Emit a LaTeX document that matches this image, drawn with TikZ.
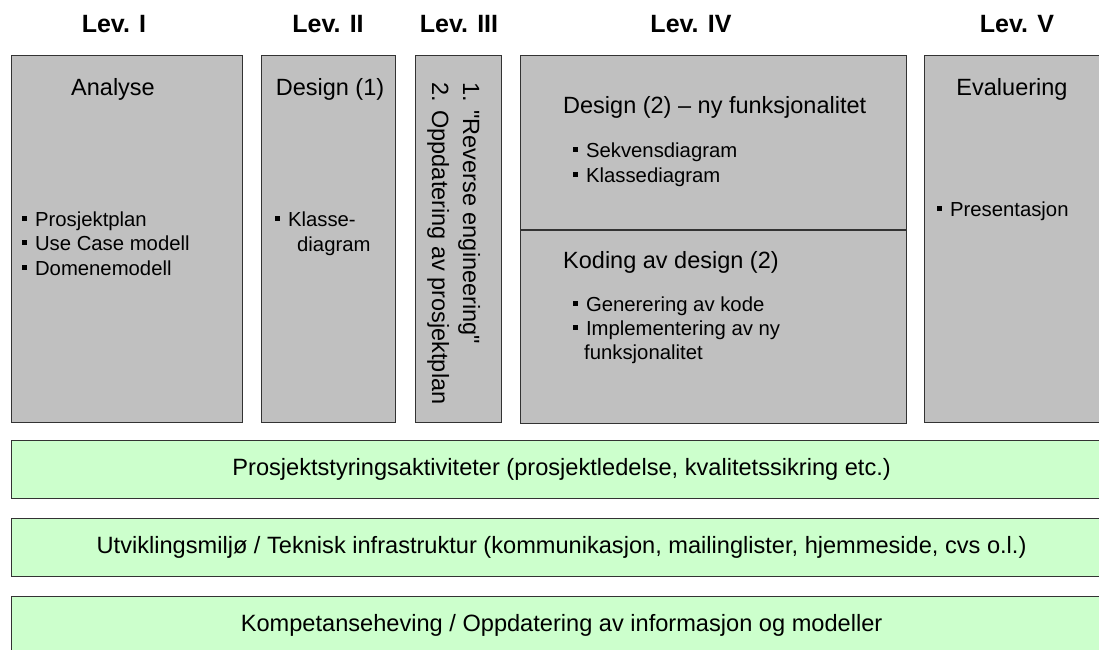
\documentclass[tikz,border=0pt]{standalone}
\usepackage{fontspec}
\setmainfont{Liberation Sans}
\definecolor{levgray}{HTML}{C0C0C0}
\definecolor{bargreen}{HTML}{CCFFCC}
\newcommand{\sqbullet}{\rule[0.25em]{0.24em}{0.24em}\hspace{8pt}}
\tikzset{
  levbox/.style={draw=black!80, line width=1.2pt, fill=levgray, anchor=north west, inner sep=0pt},
  barbox/.style={draw=black!80, line width=1.2pt, fill=bargreen, anchor=north west, inner sep=0pt, font=\fontsize{23.6}{28}\selectfont},
  levhead/.style={font=\fontsize{25}{30}\selectfont\bfseries, inner sep=0pt, anchor=base},
  heading/.style={font=\fontsize{23.5}{28}\selectfont, inner sep=0pt, anchor=base},
  bulletline/.style={font=\fontsize{20.3}{24}\selectfont, inner sep=0pt, anchor=base west},
}
\begin{document}
\begin{tikzpicture}[x=1pt, y=-1pt]
\useasboundingbox (0,0) rectangle (1099,649);
\clip (0,0) rectangle (1099,649);
% levels
\node[levhead] (headI) at (114,32) {Lev. I};
\node[levhead] (headII) at (328,32) {Lev. II};
\node[levhead] (headIII) at (459,32) {Lev. III};
\node[levhead] (headIV) at (691,32) {Lev. IV};
\node[levhead] (headV) at (1017,32) {Lev. V};
\node[levbox, minimum width=231pt, minimum height=367pt] (levI) at (11,55) {};
\node[levbox, minimum width=134pt, minimum height=367pt] (levII) at (261,55) {};
\node[levbox, minimum width=86pt, minimum height=367pt] (levIII) at (415,55) {};
\node[levbox, minimum width=386pt, minimum height=174pt] (levIVa) at (520,55) {};
\node[levbox, minimum width=386pt, minimum height=193pt] (levIVb) at (levIVa.south west) {};
\node[levbox, minimum width=180pt, minimum height=367pt] (levV) at (924,55) {};
% box contents
\node[heading] (analyse) at (113,95) {Analyse};
\node[bulletline] (planI) at (22,226) {\sqbullet Prosjektplan};
\node[bulletline] (usecase) at (22,250) {\sqbullet Use Case modell};
\node[bulletline] (domene) at (22,275) {\sqbullet Domenemodell};
\node[heading] (designI) at (330,95) {Design (1)};
\node[bulletline] (klasseI) at (275,226) {\sqbullet Klasse-};
\node[bulletline] (klasseIb) at (297,251) {diagram};
\node[heading, anchor=base west, rotate=-90] (reverse) at (463,82) {1. \textquotedbl Reverse engineering\textquotedbl};
\node[heading, anchor=base west, rotate=-90] (oppdat) at (432,82) {2. Oppdatering av prosjektplan};
\node[heading, anchor=base west] (designII) at (563,113) {Design (2) – ny funksjonalitet};
\node[bulletline] (sekvens) at (573,157) {\sqbullet Sekvensdiagram};
\node[bulletline] (klasseII) at (573,182) {\sqbullet Klassediagram};
\node[heading, anchor=base west] (koding) at (563,268) {Koding av design (2)};
\node[bulletline] (generering) at (573,311) {\sqbullet Generering av kode};
\node[bulletline] (implement) at (573,335) {\sqbullet Implementering av ny};
\node[bulletline] (implementb) at (584,359) {funksjonalitet};
\node[heading] (evaluering) at (1012,95) {Evaluering};
\node[bulletline] (presentasjon) at (937,216) {\sqbullet Presentasjon};
% support activities
\node[barbox, minimum width=1100pt, minimum height=58pt] (barI) at (11,440) {Prosjektstyringsaktiviteter (prosjektledelse, kvalitetssikring etc.)};
\node[barbox, minimum width=1100pt, minimum height=58pt] (barII) at (11,518) {Utviklingsmiljø / Teknisk infrastruktur (kommunikasjon, mailinglister, hjemmeside, cvs o.l.)};
\node[barbox, minimum width=1100pt, minimum height=58pt] (barIII) at (11,596) {Kompetanseheving / Oppdatering av informasjon og modeller};
\end{tikzpicture}
\end{document}
